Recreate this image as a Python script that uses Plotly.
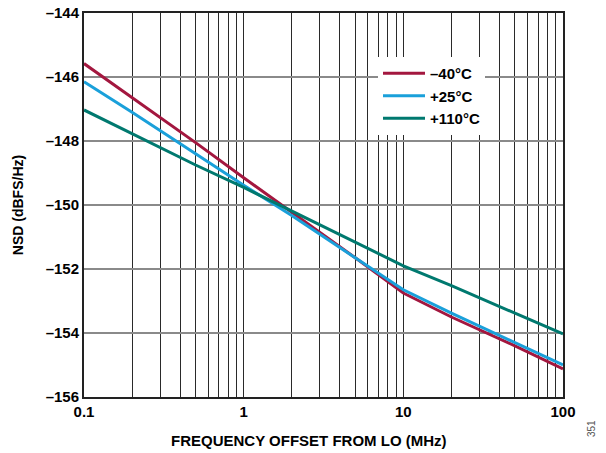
import plotly.graph_objects as go

freq_mhz = [0.1, 0.2, 0.5, 1, 2, 5, 10, 20, 50, 100]
nsd_m40 = [-145.58, -146.65, -148.05, -149.15, -150.22, -151.65, -152.75, -153.5, -154.4, -155.12]
nsd_p25 = [-146.15, -147.1, -148.4, -149.38, -150.33, -151.65, -152.65, -153.38, -154.3, -155.0]
nsd_p110 = [-147.03, -147.78, -148.75, -149.45, -150.18, -151.15, -151.9, -152.52, -153.38, -154.03]

series = [
    ("–40°C", nsd_m40, "#A3173F"),
    ("+25°C", nsd_p25, "#1AA0DA"),
    ("+110°C", nsd_p110, "#00796F"),
]

y_ticks = [-144, -146, -148, -150, -152, -154, -156]
y_ticktext = ["–144", "–146", "–148", "–150", "–152", "–154", "–156"]
x_ticks = [0.1, 1, 10, 100]
x_ticktext = ["0.1", "1", "10", "100"]
x_minor = [m * d for d in (0.1, 1, 10) for m in range(2, 10)]

fig = go.Figure()
for name, ys, col in series:
    fig.add_trace(go.Scatter(x=freq_mhz, y=ys, mode="lines", name=name,
                             line=dict(color=col, width=3)))

font_family = "Liberation Sans, Arial, sans-serif"
L, R, T, B = 84, 43, 13, 56
PW, PH = 606 - L - R, 453 - T - B
fig.update_layout(
    width=606, height=453,
    margin=dict(l=L, r=R, t=T, b=B, autoexpand=False),
    paper_bgcolor="white", plot_bgcolor="white",
    font=dict(family=font_family, color="black"),
    legend=dict(x=(378 - L) / PW, y=1 - (57 - T) / PH,
                xanchor="left", yanchor="top",
                bgcolor="white", borderwidth=0,
                font=dict(size=15, family=font_family, weight="bold"),
                tracegroupgap=0, itemwidth=42),
    showlegend=True,
)
fig.update_xaxes(
    type="log", range=[-1, 2], automargin=False,
    tickvals=x_ticks, ticktext=x_ticktext,
    showgrid=True, gridcolor="#2a2a2a", gridwidth=1.3,
    minor=dict(tickvals=x_minor, showgrid=True, gridcolor="#2a2a2a", gridwidth=1.3, ticks=""),
    showline=True, linecolor="#222222", linewidth=2, mirror=True,
    ticks="", tickfont=dict(size=15, weight="bold"),
    zeroline=False,
)
fig.update_yaxes(
    range=[-156, -144], automargin=False,
    tickvals=y_ticks, ticktext=y_ticktext,
    showgrid=True, gridcolor="#8a8a8a", gridwidth=1.5,
    showline=True, linecolor="#222222", linewidth=2, mirror=True,
    ticks="", tickfont=dict(size=15, weight="bold"),
    title=dict(text="NSD (dBFS/Hz)", font=dict(size=14, weight="bold"), standoff=19),
    zeroline=False,
)
fig.add_annotation(text="FREQUENCY OFFSET FROM LO (MHz)", xref="paper", yref="paper",
                   x=(309 - L) / PW, y=-(440 - (453 - B)) / PH,
                   xanchor="center", yanchor="middle", showarrow=False,
                   font=dict(size=15, weight="bold"))
fig.add_annotation(text="351", xref="paper", yref="paper",
                   x=(599 - L) / PW, y=-(439 - (453 - B)) / PH,
                   showarrow=False, textangle=-90,
                   font=dict(size=10, color="#555555"))
fig.write_html("out.html", config={"displayModeBar": False},
               post_script="document.body.style.margin='0';document.body.style.overflow='hidden';")
